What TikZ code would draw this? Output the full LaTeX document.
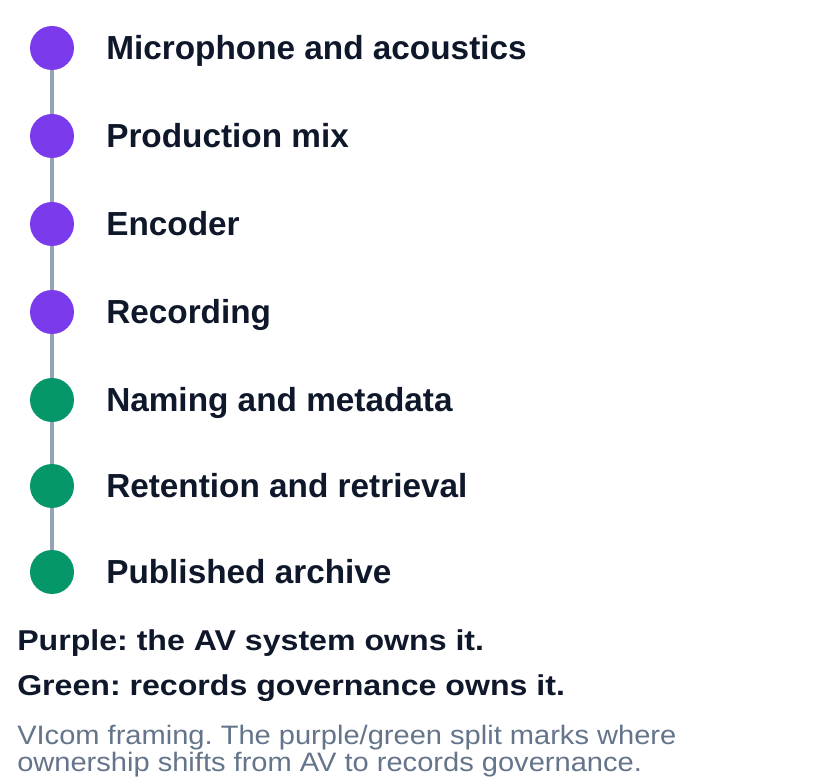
\documentclass[tikz,border=0pt]{standalone}
\usepackage{fontspec}
\setmainfont{Liberation Sans}
\newfontfamily\legendfont[FakeStretch=1.12]{Liberation Sans}
\newfontfamily\captionfont[FakeStretch=1.09]{Liberation Sans}
\definecolor{avpurple}{HTML}{7C3AED}
\definecolor{recgreen}{HTML}{059669}
\definecolor{linkgray}{HTML}{94A3B8}
\definecolor{inkdark}{HTML}{0F172A}
\definecolor{capgray}{HTML}{64748B}
\frenchspacing
\begin{document}
\begin{tikzpicture}[x=0.75pt,y=-0.75pt,
  dot/.style={circle,minimum size=33pt,inner sep=0pt,draw=none},
  purpledot/.style={dot,fill=avpurple},
  greendot/.style={dot,fill=recgreen},
  steplabel/.style={anchor=base west,inner sep=0pt,text=inkdark,font=\fontsize{25}{30}\selectfont\bfseries},
  legendtext/.style={anchor=base west,inner sep=0pt,text=inkdark,font=\legendfont\fontsize{21.5}{26}\selectfont\bfseries},
  captiontext/.style={anchor=base west,inner sep=0pt,text=capgray,align=left,font=\captionfont\fontsize{20}{18}\selectfont},
  link/.style={draw=linkgray,line width=3pt}]
\useasboundingbox (0,0) rectangle (840,784);
\node[purpledot] (c1) at (52,48) {};
\node[purpledot] (c2) at (52,136) {};
\node[purpledot] (c3) at (52,224) {};
\node[purpledot] (c4) at (52,312) {};
\node[greendot] (c5) at (52,400) {};
\node[greendot] (c6) at (52,486) {};
\node[greendot] (c7) at (52,572) {};
\draw[link] (c1.south) -- (c2.north);
\draw[link] (c2.south) -- (c3.north);
\draw[link] (c3.south) -- (c4.north);
\draw[link] (c4.south) -- (c5.north);
\draw[link] (c5.south) -- (c6.north);
\draw[link] (c6.south) -- (c7.north);
\node[steplabel] (t1) at (106,60) {Microphone and acoustics};
\node[steplabel] (t2) at (106,148) {Production mix};
\node[steplabel] (t3) at (106,236) {Encoder};
\node[steplabel] (t4) at (106,324) {Recording};
\node[steplabel] (t5) at (106,412) {Naming and metadata};
\node[steplabel] (t6) at (106,498) {Retention and retrieval};
\node[steplabel] (t7) at (106,584) {Published archive};
\node[legendtext] (l1) at (17,650) {Purple: the AV system owns it.};
\node[legendtext] (l2) at (17,695) {Green: records governance owns it.};
\node[captiontext] (k1) at (17,771) {VIcom framing. The purple/green split marks where\\ownership shifts from AV to records governance.};
\end{tikzpicture}
\end{document}
